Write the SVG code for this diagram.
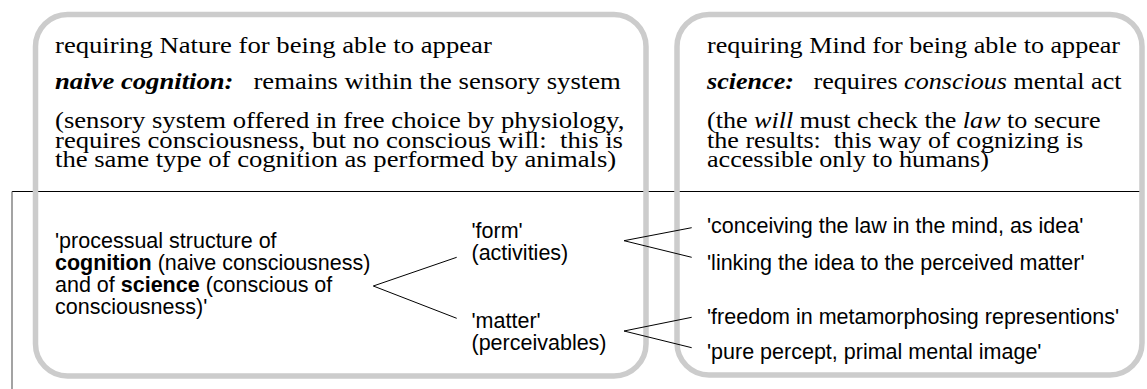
<svg xmlns="http://www.w3.org/2000/svg" width="1147" height="389" viewBox="0 0 1147 389">
  <style>
    .panel { fill: none; stroke: #cccccc; stroke-width: 5.5; }
    .rule { stroke: #000; stroke-width: 1; fill: none; }
    .vrule { stroke: #666; stroke-width: 1.2; fill: none; }
    .serif { font-family: "Liberation Serif", "Times New Roman", serif; font-size: 23px; fill: #000; }
    .sans { font-family: "Liberation Sans", Arial, sans-serif; font-size: 21.5px; fill: #000; }
    .bi { font-weight: bold; font-style: italic; }
    .it { font-style: italic; }
    .b { font-weight: bold; }
    .conn { fill: none; stroke: #000; stroke-width: 1; }
  </style>
  <rect width="1147" height="389" fill="#ffffff"/>
  <g id="frame">
    <line class="rule" x1="12" y1="191.5" x2="1143" y2="191.5"/>
    <line class="vrule" x1="12" y1="191.5" x2="12" y2="389"/>
  </g>
  <g id="panel-nature">
    <rect class="panel" x="35.5" y="14.5" width="610.5" height="361.5" rx="32" ry="32"/>
    <g transform="translate(55 0) scale(1.16 1)">
      <text class="serif" x="0" y="53">requiring Nature for being able to appear</text>
      <text class="serif" x="0" y="89" xml:space="preserve"><tspan class="bi">naive cognition:</tspan>   remains within the sensory system</text>
      <text class="serif" x="0" y="128">(sensory system offered in free choice by physiology,</text>
      <text class="serif" x="0" y="148" xml:space="preserve">requires consciousness, but no conscious will:  this is</text>
      <text class="serif" x="0" y="167.5">the same type of cognition as performed by animals)</text>
    </g>
  </g>
  <g id="panel-mind">
    <rect class="panel" x="677" y="14.5" width="465" height="360.5" rx="32" ry="32"/>
    <g transform="translate(707 0) scale(1.135 1)">
      <text class="serif" x="0" y="53">requiring Mind for being able to appear</text>
      <text class="serif" x="0" y="89" xml:space="preserve"><tspan class="bi">science:</tspan>   requires <tspan class="it">conscious</tspan> mental act</text>
      <text class="serif" x="0" y="128">(the <tspan class="it">will</tspan> must check the <tspan class="it">law</tspan> to secure</text>
      <text class="serif" x="0" y="148" xml:space="preserve">the results:  this way of cognizing is</text>
      <text class="serif" x="0" y="167.5">accessible only to humans)</text>
    </g>
  </g>
  <g id="node-structure">
    <text class="sans" x="55" y="248">'processual structure of</text>
    <text class="sans" x="55" y="270"><tspan class="b">cognition</tspan> (naive consciousness)</text>
    <text class="sans" x="55" y="292">and of <tspan class="b">science</tspan> (conscious of</text>
    <text class="sans" x="55" y="314">consciousness)'</text>
  </g>
  <g id="node-form">
    <text class="sans" x="471.5" y="238">'form'</text>
    <text class="sans" x="471.5" y="260">(activities)</text>
  </g>
  <g id="node-matter">
    <text class="sans" x="471.5" y="328">'matter'</text>
    <text class="sans" x="471.5" y="350">(perceivables)</text>
  </g>
  <g id="node-law">
    <text class="sans" x="707" y="233">'conceiving the law in the mind, as idea'</text>
  </g>
  <g id="node-linking">
    <text class="sans" x="707" y="270">'linking the idea to the perceived matter'</text>
  </g>
  <g id="node-freedom">
    <text class="sans" x="707" y="324">'freedom in metamorphosing representions'</text>
  </g>
  <g id="node-percept">
    <text class="sans" x="707" y="359">'pure percept, primal mental image'</text>
  </g>
  <g id="connectors">
    <polyline class="conn" points="456.7,257.3 373.3,286 456.7,318.3"/>
    <polyline class="conn" points="691.7,227.7 624,240.7 691.7,257.3"/>
    <polyline class="conn" points="691.7,317.3 624,331 691.7,347.7"/>
  </g>
</svg>
